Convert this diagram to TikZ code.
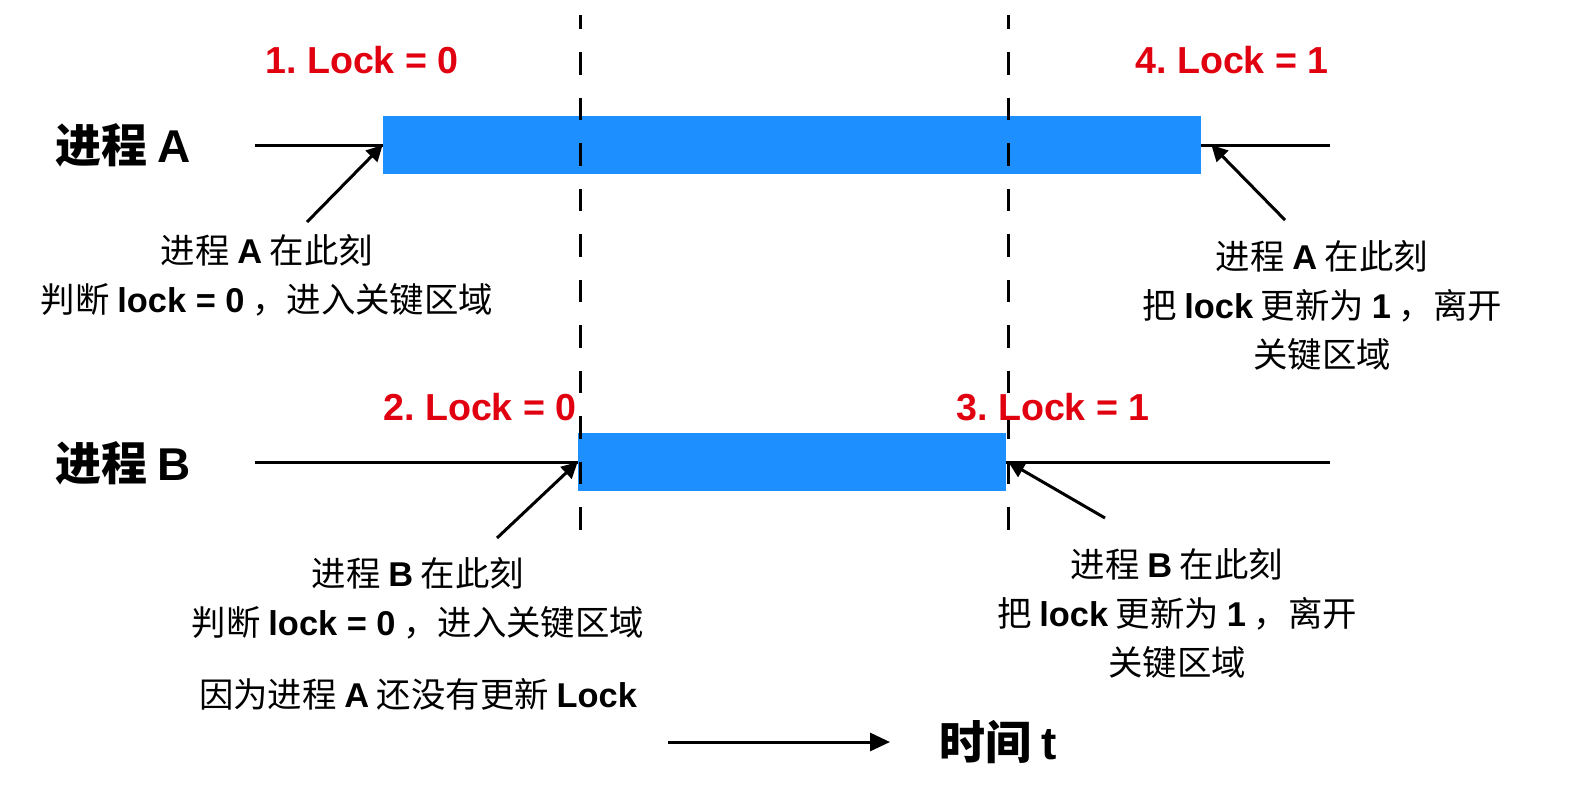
\documentclass[tikz,border=0pt]{standalone}
\usepackage{fontspec}
\setmainfont{Noto Sans CJK SC}
\newfontfamily\lat{Liberation Sans}
\usetikzlibrary{arrows.meta,positioning}
\definecolor{barblue}{HTML}{1E8FFF}
\definecolor{lockred}{HTML}{E0000F}
\newcommand{\latb}[1]{{\lat\bfseries #1}}
\frenchspacing
\tikzset{
  bar/.style={rectangle, fill=barblue, inner sep=0pt},
  track/.style={line width=1.5pt},
  cut/.style={line width=1.5pt, dash pattern=on 11.25pt off 11.5pt, dash phase=4.25pt},
  arr/.style={-{Triangle[length=8pt,width=8pt]}, line width=1.5pt},
  lock/.style={text=lockred, font=\fontsize{18.8}{20}\selectfont\lat\bfseries},
  proc/.style={font=\fontsize{23}{26}\selectfont\bfseries},
  note/.style={align=center, font=\fontsize{17.2}{24.5}\selectfont},
}
\begin{document}
\begin{tikzpicture}[x=0.5pt, y=-0.5pt]
    \useasboundingbox (0,0) rectangle (1572,788);
    % process tracks
    \node[proc] (pA) at (123,145) {进程 \latb{A}};
    \node[proc] (pB) at (123,463) {进程 \latb{B}};
    \draw[track] (255,145) -- (1330,145);
    \draw[track] (255,462) -- (1330,462);
    \node[bar, minimum width=409pt, minimum height=29pt] (barA) at (792,145) {};
    \node[bar, minimum width=214pt, minimum height=29pt] (barB) at (792,462) {};
    % time cuts
    \draw[cut] (580,15) -- (580,535);
    \draw[cut] (1008,15) -- (1008,535);
    % lock values
    \node[lock] (l1) at (362,60) {1. Lock = 0};
    \node[lock] (l4) at (1232,60) {4. Lock = 1};
    \node[lock] (l2) at (480,407) {2. Lock = 0};
    \node[lock] (l3) at (1053,407) {3. Lock = 1};
    % notes
    \node[note] (nA1) at (267,275) {进程 \latb{A} 在此刻\\判断 \latb{lock = 0} ，进入关键区域};
    \node[note] (nA4) at (1322,305) {进程 \latb{A} 在此刻\\把 \latb{lock} 更新为 \latb{1} ，离开\\关键区域};
    \node[note] (nB2) at (418,598) {进程 \latb{B} 在此刻\\判断 \latb{lock = 0} ，进入关键区域};
    \node[note] (nB2b) at (418,694) {因为进程 \latb{A} 还没有更新 \latb{Lock}};
    \node[note] (nB3) at (1177,613) {进程 \latb{B} 在此刻\\把 \latb{lock} 更新为 \latb{1} ，离开\\关键区域};
    \coordinate (tA1) at (307,222);
    \coordinate (tA4) at (1285,220);
    \coordinate (tB2) at (497,538);
    \coordinate (tB3) at (1105,518);
    \draw[arr] (tA1) -- (barA.west);
    \draw[arr] (tA4) -- ([xshift=5pt]barA.east);
    \draw[arr] (tB2) -- (barB.west);
    \draw[arr] (tB3) -- ([xshift=1pt]barB.east);
    % time axis
    \coordinate (t0) at (668,742);
    \node[proc, anchor=west] (time) at (932,742) {时间 \latb{t}};
    \draw[-{Triangle[length=10pt,width=9pt]}, line width=1.5pt] (t0) -- (890,742);
  \end{tikzpicture}
\end{document}
